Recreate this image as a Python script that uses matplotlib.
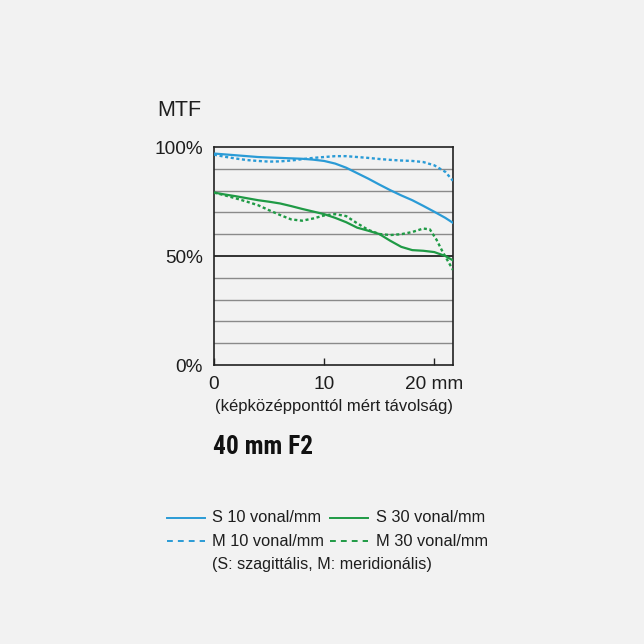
import matplotlib
matplotlib.use("Agg")
import matplotlib.pyplot as plt
from matplotlib.lines import Line2D
from matplotlib import font_manager

# ---- data ----
x_pos = [0, 1, 2, 3, 4, 5, 6, 7, 8, 9, 10, 11, 12, 13, 14, 15, 16, 17, 18, 19, 20, 21, 21.7]
s10 = [97, 96.6, 96.2, 95.8, 95.4, 95.2, 95, 94.8, 94.6, 94.2, 93.6, 92.4, 90.5, 88, 85.5,
       82.8, 80.2, 77.8, 75.6, 73, 70.3, 67.5, 65.2]
m10 = [96.5, 95.5, 94.7, 94, 93.6, 93.3, 93.4, 93.8, 94.4, 95, 95.4, 95.8, 95.8, 95.4, 95,
       94.5, 94.1, 93.8, 93.6, 93.1, 91.6, 88.6, 84.5]
s30 = [79.1, 78.2, 77.4, 76.5, 75.6, 74.9, 74.1, 72.9, 71.6, 70.4, 69.2, 67.5, 65.5, 63, 61.6,
       60.1, 57, 54.2, 52.7, 52.4, 51.8, 50, 48]
x_m30 = [0, 1, 2, 3, 4, 5, 6, 7, 8, 9, 10, 11, 12, 13, 14, 15, 16, 17, 18, 19, 19.6, 20.2, 20.7, 21.2, 21.7]
m30 = [79.1, 77.8, 76.4, 74.9, 73.3, 71, 68.8, 66.8, 66.2, 67.2, 68.6, 69.2, 68.3, 65, 62,
       60.1, 59.6, 60, 61, 62.6, 62.2, 57.5, 52.5, 48, 43.6]

x_ticks = [0, 10, 20]
x_ticklabels = ["0", "10", "20 mm"]
y_ticks = [0, 50, 100]
y_ticklabels = ["0%", "50%", "100%"]
legend_labels = ["S 10 vonal/mm", "S 30 vonal/mm", "M 10 vonal/mm", "M 30 vonal/mm"]
note = "(S: szagittális, M: meridionális)"
x_title = "(képközépponttól mért távolság)"
title = "40 mm F2"

BLUE = "#2a9bd6"
GREEN = "#1f9a45"
BG = "#f2f2f2"
FONT = "Liberation Sans"
TXT = "#1e1e1e"

plt.rcParams["font.family"] = [FONT, "DejaVu Sans"]
names = {f.name for f in font_manager.fontManager.ttflist}
title_family, title_size = ["Liberation Sans"], 15.6
for cand in ["Liberation Sans Narrow", "Roboto Condensed", "Open Sans Condensed", "DejaVu Sans Condensed"]:
    if cand in names:
        title_family, title_size = [cand], 18.3
        break

W, H = 644, 644
fig = plt.figure(figsize=(W / 100, H / 100), dpi=100, facecolor=BG)

L, R, T, B = 214, 453, 147, 365
ax = fig.add_axes([L / W, 1 - B / H, (R - L) / W, (B - T) / H])
ax.set_facecolor(BG)
ax.set_xlim(0, 21.7)
ax.set_ylim(0, 100)

for g in range(10, 100, 10):
    if g == 50:
        ax.axhline(g, color="#111111", lw=1.2, zorder=1)
    else:
        ax.axhline(g, color="#8a8a8a", lw=1.0, zorder=1)

dot = (0, (1.3, 1.1))
ax.plot(x_pos, s10, color=BLUE, lw=1.6, zorder=3)
ax.plot(x_pos, m10, color=BLUE, lw=1.7, ls=dot, zorder=3)
ax.plot(x_pos, s30, color=GREEN, lw=1.6, zorder=3)
ax.plot(x_m30, m30, color=GREEN, lw=1.7, ls=dot, zorder=3)

for s in ax.spines.values():
    s.set_color("#222222")
    s.set_linewidth(1.2)

ax.set_xticks(x_ticks)
ax.set_xticklabels(x_ticklabels, fontsize=13.7, color=TXT)
ax.tick_params(axis="x", direction="in", length=5, width=1, color="#222222", pad=8)
ax.set_yticks(y_ticks)
ax.set_yticklabels(y_ticklabels, fontsize=13.7, color=TXT)
ax.tick_params(axis="y", length=0, pad=8)

fig.text(157 / W, 1 - 111 / H, "MTF", fontsize=15.5, color=TXT, va="center", ha="left")
fig.text(334 / W, 1 - 407 / H, x_title, fontsize=12, color=TXT, va="center", ha="center")
fig.text(213 / W, 1 - 447 / H, title, fontsize=title_size, fontweight="bold",
         family=title_family, color="#111111", va="center", ha="left")

# legend
dash = (0, (3, 2.6))
styles = [("-", BLUE), ("-", GREEN), (dash, BLUE), (dash, GREEN)]
pos = [(167, 205, 212, 518), (330, 368, 376, 518), (167, 205, 212, 541), (330, 368, 376, 541)]
for (x0, x1, xt, yy), (ls, c), lab in zip(pos, styles, legend_labels):
    fig.add_artist(Line2D([x0 / W, x1 / W], [1 - yy / H, 1 - yy / H], transform=fig.transFigure,
                          color=c, lw=1.4, ls=ls))
    fig.text(xt / W, 1 - yy / H, lab, fontsize=11.8, color=TXT, va="center", ha="left")
fig.text(212 / W, 1 - 564 / H, note, fontsize=11.6, color=TXT, va="center", ha="left")

fig.savefig("out.png", dpi=100, facecolor=BG)
